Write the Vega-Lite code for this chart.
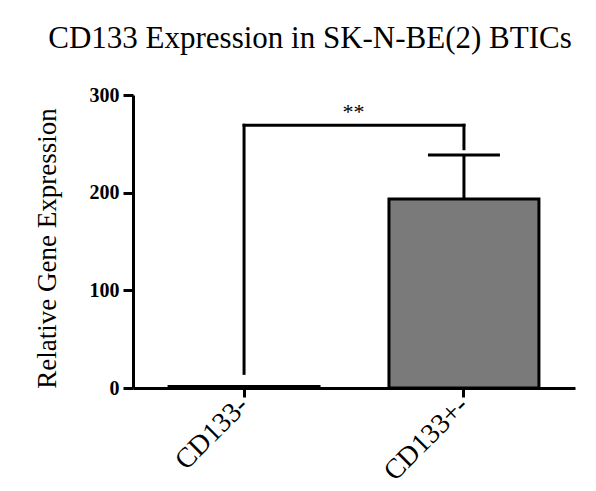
{
  "$schema": "https://vega.github.io/schema/vega-lite/v6.json",
  "width": 442,
  "height": 293,
  "autosize": "none",
  "padding": {"left": 133, "top": 95, "right": 21, "bottom": 103},
  "background": "white",
  "title": {
    "text": "CD133 Expression in SK-N-BE(2) BTICs",
    "font": "Liberation Serif",
    "fontSize": 31,
    "fontWeight": "normal",
    "color": "black",
    "anchor": "middle",
    "frame": "group",
    "dx": -44,
    "offset": 30
  },
  "config": {
    "view": {"stroke": null},
    "axis": {"grid": false}
  },
  "data": {
    "values": [
      {"group": "CD133-", "value": 1.5},
      {"group": "CD133+-", "value": 193.5, "err": 238.5}
    ]
  },
  "encoding": {
    "x": {
      "field": "group",
      "type": "nominal",
      "sort": null,
      "scale": {"paddingInner": 0.318, "paddingOuter": 0.164},
      "axis": {
        "title": null,
        "labelAngle": -45,
        "labelAlign": "right",
        "labelBaseline": "middle",
        "labelFont": "Liberation Serif",
        "labelFontSize": 28,
        "labelColor": "black",
        "labelPadding": 4,
        "tickSize": 9,
        "tickWidth": 3,
        "tickColor": "black",
        "domainWidth": 3,
        "domainColor": "black"
      }
    }
  },
  "layer": [
    {
      "mark": {"type": "bar", "fill": "#7a7a7a", "stroke": "black", "strokeWidth": 3},
      "encoding": {
        "y": {
          "field": "value",
          "type": "quantitative",
          "scale": {"domain": [0, 300], "nice": false},
          "axis": {
            "values": [0, 100, 200, 300],
            "title": "Relative Gene Expression",
            "titleFont": "Liberation Serif",
            "titleFontSize": 27,
            "titleFontWeight": "normal",
            "titleColor": "black",
            "titlePadding": 28,
            "titleY": 153,
            "labelFont": "Liberation Serif",
            "labelFontSize": 20,
            "labelFontWeight": "bold",
            "labelColor": "black",
            "labelPadding": 4,
            "tickSize": 10,
            "tickWidth": 3,
            "tickColor": "black",
            "domainWidth": 3,
            "domainColor": "black"
          }
        }
      }
    },
    {
      "transform": [{"filter": "isValid(datum.err)"}],
      "mark": {"type": "rule", "color": "black", "strokeWidth": 3},
      "encoding": {
        "y": {"field": "value", "type": "quantitative"},
        "y2": {"field": "err"}
      }
    },
    {
      "transform": [{"filter": "isValid(datum.err)"}],
      "mark": {"type": "tick", "color": "black", "size": 72, "thickness": 3, "opacity": 1},
      "encoding": {
        "y": {"field": "err", "type": "quantitative"}
      }
    },
    {
      "data": {"values": [{"from": "CD133-", "to": "CD133+-", "level": 269}]},
      "mark": {"type": "rule", "color": "black", "strokeWidth": 3, "strokeCap": "square"},
      "encoding": {
        "x": {"field": "from", "type": "nominal"},
        "x2": {"field": "to"},
        "y": {"field": "level", "type": "quantitative"}
      }
    },
    {
      "data": {"values": [
        {"g": "CD133-", "low": 15, "high": 269},
        {"g": "CD133+-", "low": 245, "high": 269}
      ]},
      "mark": {"type": "rule", "color": "black", "strokeWidth": 3, "strokeCap": "square"},
      "encoding": {
        "x": {"field": "g", "type": "nominal"},
        "y": {"field": "low", "type": "quantitative"},
        "y2": {"field": "high"}
      }
    },
    {
      "data": {"values": [{"g": "CD133-", "label": "**", "pos": 283}]},
      "mark": {"type": "text", "font": "Liberation Serif", "fontSize": 22, "color": "black", "baseline": "middle", "align": "center"},
      "encoding": {
        "x": {"field": "g", "type": "nominal", "bandPosition": 1.23},
        "y": {"field": "pos", "type": "quantitative"},
        "text": {"field": "label"}
      }
    }
  ]
}
